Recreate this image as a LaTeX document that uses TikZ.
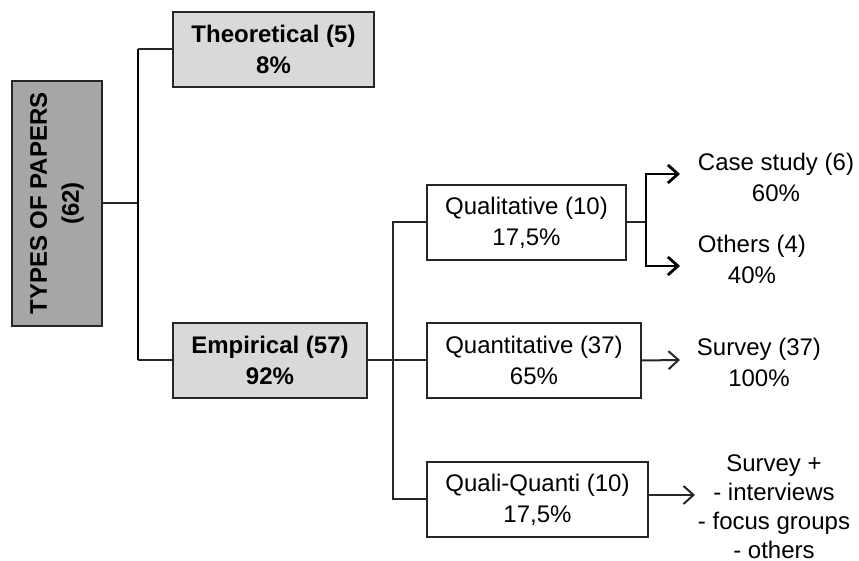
\documentclass[tikz,border=0pt]{standalone}
\usepackage{fontspec}
\setmainfont{Liberation Sans}
\usetikzlibrary{arrows.meta}
\begin{document}
\begin{tikzpicture}[x=0.5pt,y=-0.5pt,
  box/.style={draw=black!85,line width=1pt,rectangle,inner sep=0pt,minimum height=37.5pt,align=center,font=\fontsize{12pt}{15.5pt}\selectfont},
  graybox/.style={box,fill=black!15,font=\fontsize{12pt}{15.5pt}\selectfont\bfseries},
  lbl/.style={inner sep=0pt,align=center,font=\fontsize{12pt}{15.5pt}\selectfont},
  conn/.style={draw=black!85,line width=1pt},
  trunkline/.style={draw=black,line width=1.4pt},
  arr/.style={-{Straight Barb[length=5pt,width=9pt]}}
]
\useasboundingbox (0,0) rectangle (859,561);
\node[box,fill=black!35,font=\fontsize{12pt}{16pt}\selectfont\bfseries,rotate=90,minimum width=122.5pt,minimum height=45pt] (root) at (57,203.5) {TYPES OF PAPERS\\(62)};
\node[graybox,minimum width=100.5pt] (theo) at (273.5,49.5) {Theoretical (5)\\8\%};
\node[graybox,minimum width=97pt] (emp) at (270,360.5) {Empirical (57)\\92\%};
\node[box,minimum width=99.5pt] (qual) at (526.5,222.5) {Qualitative (10)\\17,5\%};
\node[box,minimum width=107pt] (quant) at (534,360.5) {Quantitative (37)\\65\%};
\node[box,minimum width=110.5pt] (qq) at (537.5,499.5) {Quali-Quanti (10)\\17,5\%};
\node[lbl] (cs) at (776,177.5) {Case study (6)\\60\%};
\node[lbl] (ot) at (752,259) {Others (4)\\40\%};
\node[lbl] (sv) at (759,362.5) {Survey (37)\\100\%};
\node[lbl,font=\fontsize{12pt}{14.5pt}\selectfont] (mix) at (774,507) {Survey +\\- interviews\\- focus groups\\- others};
\coordinate (trunk) at (138,0);
\coordinate (bus) at (393,0);
\coordinate (qa) at (646,174);
\coordinate (qb) at (646,266);
\coordinate (csin) at (680,174);
\coordinate (otin) at (680,266);
\coordinate (svin) at (680,360);
\coordinate (mixin) at (695,495);
\draw[conn] (root.south) -- (root.south -| trunk);
\draw[trunkline] (theo.west -| trunk) -- (emp.west -| trunk);
\draw[conn] (theo.west) -- (theo.west -| trunk);
\draw[conn] (emp.west) -- (emp.west -| trunk);
\draw[conn] (emp.east) -- (quant.west);
\draw[conn] (qual.west) -- (qual.west -| bus) -- (qq.west -| bus) -- (qq.west);
\draw[conn] (qual.east) -- (qual.east -| qa);
\draw[trunkline,{Straight Barb[length=5pt,width=9pt]}-{Straight Barb[length=5pt,width=9pt]}] (csin) -- (qa) -- (qb) -- (otin);
\draw[conn,arr] (quant.east) -- (svin);
\draw[conn,arr] (qq.east |- mixin) -- (mixin);
\end{tikzpicture}
\end{document}
